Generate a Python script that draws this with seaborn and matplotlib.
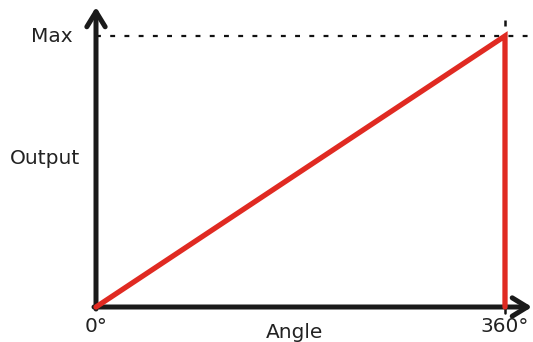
import matplotlib
matplotlib.use("Agg")
import matplotlib.pyplot as plt
import seaborn as sns
import pandas as pd

angle = [0, 360, 360]
output = [0, 1, 0]
x_ticks = [0, 360]
x_tick_labels = ["0°", "360°"]
y_label_max = "Max"

sns.set_theme(style="white")
plt.rcParams['font.family'] = ['DejaVu Sans']

W, H = 533, 342
fig = plt.figure(figsize=(W / 100, H / 100), dpi=100)
ax = fig.add_axes([0, 0, 1, 1])

# pixel mapping
x0px, x1px = 96, 505
y0px, y1px = 307, 36
sx = 360 / (x1px - x0px)
sy = 1 / (y0px - y1px)
ax.set_xlim(-x0px * sx, (W - x0px) * sx)
ax.set_ylim(-(H - y0px) * sy, y0px * sy)
ax.axis("off")

df = pd.DataFrame({"Angle": angle, "Output": output})

# dotted guides
ax.plot([0, (W - 2 - x0px) * sx], [1, 1], color="#111111", lw=1.6,
        linestyle=(0, (2.2, 4.2)), zorder=1)
ax.plot([360, 360], [(y0px - 26) * sy, (y0px - 20) * sy], color="#111111",
        lw=1.8, zorder=1, solid_capstyle="butt")
# small tick below x-axis at 360
ax.plot([360, 360], [0, -6 * sy], color="#111111", lw=1.8, zorder=1)

sns.lineplot(data=df, x="Angle", y="Output", sort=False, estimator=None,
             color="#e02a22", lw=3.8, ax=ax, zorder=3, solid_joinstyle="miter")

# axes arrows
akw = dict(arrowstyle="->,head_length=0.9,head_width=0.55", color="#1a1a1a",
           lw=3.6, shrinkA=0, shrinkB=0)
ax.annotate("", xy=(0, (y0px - 7) * sy), xytext=(0, -2 * sy),
            arrowprops=akw, zorder=2)
ax.annotate("", xy=((W - 1 - x0px) * sx, 0), xytext=(-2 * sx, 0),
            arrowprops=akw, zorder=2)

fs = 14.5
tc = "#222222"
ax.text((73 - x0px) * sx, 1, y_label_max, ha="right", va="center",
        fontsize=fs, color=tc)
ax.text((80 - x0px) * sx, (y0px - 158) * sy, "Output", ha="right",
        va="center", fontsize=fs, color=tc)
for t, lab in zip(x_ticks, x_tick_labels):
    ax.text(t, (y0px - 326) * sy, lab, ha="center", va="center",
            fontsize=fs, color=tc)
ax.text(((265 + 325) / 2 - x0px) * sx, (y0px - 333) * sy, "Angle",
        ha="center", va="center", fontsize=fs, color=tc)

fig.savefig("out.png", dpi=100)
